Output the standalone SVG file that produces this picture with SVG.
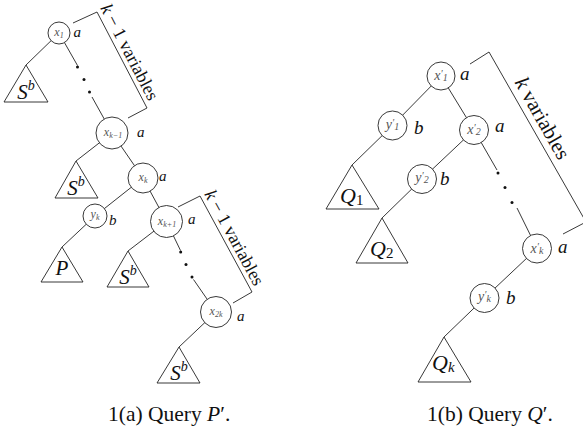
<svg xmlns="http://www.w3.org/2000/svg" width="583" height="432" viewBox="0 0 583 432">
<style>
.e{stroke:#222;stroke-width:0.9;fill:none}
.n{fill:#fff;stroke:#222;stroke-width:0.9}
.t{fill:#fff;stroke:#222;stroke-width:0.9}
.d{fill:#111}
.lab{font-family:"Liberation Serif",serif;font-style:italic;fill:#555;text-anchor:middle}
.ls{font-size:12px}
.rs{font-size:14px}
.m{font-family:"Liberation Serif",serif;font-style:italic;fill:#111}
.r{font-family:"Liberation Serif",serif;font-style:normal;fill:#111}
.tri{font-family:"Liberation Serif",serif;font-style:italic;fill:#111;text-anchor:middle;font-size:21px}
</style>
<rect width="583" height="432" fill="#fff"/>
<g id="connectors">
<line class="e" x1="59" y1="33" x2="26" y2="65"/>
<line class="e" x1="59" y1="33" x2="77.5" y2="65.5"/>
<line class="e" x1="92" y1="97" x2="112" y2="133"/>
<line class="e" x1="112" y1="133" x2="76" y2="161"/>
<line class="e" x1="112" y1="133" x2="143" y2="178"/>
<line class="e" x1="143" y1="178" x2="95" y2="216"/>
<line class="e" x1="143" y1="178" x2="166.5" y2="221.5"/>
<line class="e" x1="95" y1="216" x2="62" y2="247"/>
<line class="e" x1="166.5" y1="221.5" x2="128" y2="251"/>
<line class="e" x1="166.5" y1="221.5" x2="180.5" y2="250.5"/>
<line class="e" x1="193.5" y1="279.5" x2="216" y2="312"/>
<line class="e" x1="216" y1="312" x2="179" y2="347"/>
<line class="e" x1="441" y1="76" x2="392.5" y2="125.5"/>
<line class="e" x1="441" y1="76" x2="474" y2="130"/>
<line class="e" x1="392.5" y1="125.5" x2="352" y2="165"/>
<line class="e" x1="474" y1="130" x2="422" y2="179"/>
<line class="e" x1="422" y1="179" x2="382" y2="218"/>
<line class="e" x1="474" y1="130" x2="497" y2="170"/>
<line class="e" x1="517" y1="208" x2="537" y2="248.5"/>
<line class="e" x1="537" y1="248.5" x2="484.5" y2="298"/>
<line class="e" x1="484.5" y1="298" x2="444" y2="337"/>
</g>
<g id="dots">
<circle class="d" cx="77.5" cy="67" r="1.5"/>
<circle class="d" cx="84" cy="79.5" r="1.5"/>
<circle class="d" cx="89.5" cy="92" r="1.5"/>
<circle class="d" cx="180.7" cy="252" r="1.5"/>
<circle class="d" cx="186" cy="264.5" r="1.5"/>
<circle class="d" cx="192" cy="277" r="1.5"/>
<circle class="d" cx="498" cy="173" r="1.5"/>
<circle class="d" cx="505" cy="187.5" r="1.5"/>
<circle class="d" cx="512" cy="202.5" r="1.5"/>
</g>
<g id="brackets">
<path class="e" d="M73,23 L97,12 L147,108 L128,118"/>
<text class="r" font-size="18" text-anchor="middle" transform="translate(124.3,54.8) rotate(62.5)"><tspan class="m">k</tspan> − 1 variables</text>
<path class="e" d="M178,207 L200,196 L252,292 L233,303"/>
<text class="r" font-size="18" text-anchor="middle" transform="translate(229.2,240.5) rotate(61.6)"><tspan class="m">k</tspan> − 1 variables</text>
<path class="e" d="M470,64 L489,52 L586,222 L563,234"/>
<text class="r" font-size="21" text-anchor="middle" transform="translate(536.4,121.7) rotate(60.5)"><tspan class="m">k</tspan> variables</text>
</g>
<g id="x1"><circle class="n" cx="59" cy="33" r="11"/><text class="lab ls" x="59" y="36">x<tspan font-size="8" dy="2">1</tspan></text><text class="m" font-size="15" x="73.5" y="37">a</text></g>
<g id="xkm1"><circle class="n" cx="112" cy="133" r="16"/><text class="lab ls" x="113" y="136">x<tspan font-size="8" dy="2">k−1</tspan></text><text class="m" font-size="15" x="137" y="137">a</text></g>
<g id="xk"><circle class="n" cx="143" cy="178" r="15"/><text class="lab ls" x="143" y="181">x<tspan font-size="8" dy="2">k</tspan></text><text class="m" font-size="15" x="159" y="181">a</text></g>
<g id="yk"><circle class="n" cx="95" cy="216" r="12"/><text class="lab ls" x="95" y="218">y<tspan font-size="8" dy="2">k</tspan></text><text class="m" font-size="15" x="109" y="225">b</text></g>
<g id="xk1"><circle class="n" cx="166.5" cy="221.5" r="16"/><text class="lab ls" x="167" y="224.5">x<tspan font-size="8" dy="2">k+1</tspan></text><text class="m" font-size="15" x="188" y="224">a</text></g>
<g id="x2k"><circle class="n" cx="216" cy="312" r="15.5"/><text class="lab ls" x="216" y="315">x<tspan font-size="8" dy="2">2k</tspan></text><text class="m" font-size="15" x="237" y="321">a</text></g>
<g id="S1"><path class="t" d="M26,65 L48,102 L4,102 Z"/><text class="tri" x="26" y="99">S<tspan font-size="14" dy="-9">b</tspan></text></g>
<g id="S2"><path class="t" d="M76,161 L98,198 L55,198 Z"/><text class="tri" x="76" y="195">S<tspan font-size="14" dy="-9">b</tspan></text></g>
<g id="P"><path class="t" d="M62,247 L83,282 L41,282 Z"/><text class="tri" x="62" y="275">P</text></g>
<g id="S3"><path class="t" d="M128,251 L149,287 L107,287 Z"/><text class="tri" x="128" y="284">S<tspan font-size="14" dy="-9">b</tspan></text></g>
<g id="S4"><path class="t" d="M179,347 L200,383 L157,383 Z"/><text class="tri" x="179" y="380">S<tspan font-size="14" dy="-9">b</tspan></text></g>
<g id="xp1"><circle class="n" cx="441" cy="76" r="14"/><text class="lab rs" x="441" y="80">x<tspan font-size="10" dy="-3">′</tspan><tspan font-size="10" dy="4">1</tspan></text><text class="m" font-size="19" x="460" y="80">a</text></g>
<g id="yp1"><circle class="n" cx="392.5" cy="125.5" r="14.5"/><text class="lab rs" x="392.5" y="128.5">y<tspan font-size="10" dy="-3">′</tspan><tspan font-size="10" dy="4">1</tspan></text><text class="m" font-size="19" x="414" y="134">b</text></g>
<g id="xp2"><circle class="n" cx="474" cy="130" r="14.5"/><text class="lab rs" x="474" y="134">x<tspan font-size="10" dy="-3">′</tspan><tspan font-size="10" dy="4">2</tspan></text><text class="m" font-size="19" x="495" y="132">a</text></g>
<g id="yp2"><circle class="n" cx="422" cy="179" r="14.5"/><text class="lab rs" x="422" y="182">y<tspan font-size="10" dy="-3">′</tspan><tspan font-size="10" dy="4">2</tspan></text><text class="m" font-size="19" x="440" y="185">b</text></g>
<g id="xpk"><circle class="n" cx="537" cy="248.5" r="14.5"/><text class="lab rs" x="537" y="252.5">x<tspan font-size="10" dy="-3">′</tspan><tspan font-size="10" dy="4">k</tspan></text><text class="m" font-size="19" x="558" y="253">a</text></g>
<g id="ypk"><circle class="n" cx="484.5" cy="298" r="14.5"/><text class="lab rs" x="484.5" y="301">y<tspan font-size="10" dy="-3">′</tspan><tspan font-size="10" dy="4">k</tspan></text><text class="m" font-size="19" x="506" y="304">b</text></g>
<g id="Q1"><path class="t" d="M352,165 L379,209 L326,209 Z"/><text class="m" font-size="22" x="340" y="203">Q<tspan class="r" font-size="15" dy="2">1</tspan></text></g>
<g id="Q2"><path class="t" d="M382,218 L408,263 L356,263 Z"/><text class="m" font-size="22" x="370" y="256">Q<tspan class="r" font-size="15" dy="2">2</tspan></text></g>
<g id="Qk"><path class="t" d="M444,337 L471,382 L418,382 Z"/><text class="m" font-size="22" x="432" y="370">Q<tspan font-size="15" dy="2">k</tspan></text></g>
<g id="captions">
<text class="r" font-size="21.5" x="108" y="421">1(a) Query <tspan class="m">P</tspan>′.</text>
<text class="r" font-size="21.5" x="427" y="421">1(b) Query <tspan class="m">Q</tspan>′.</text>
</g>
</svg>
